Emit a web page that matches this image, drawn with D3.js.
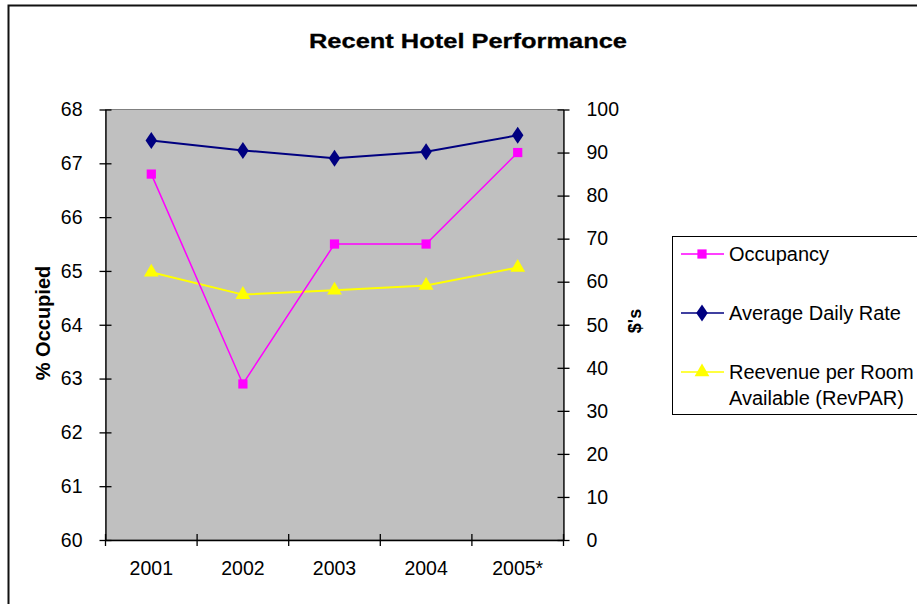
<!DOCTYPE html>
<html>
<head>
<meta charset="utf-8">
<script src="https://cdn.jsdelivr.net/npm/d3@7"></script>
<style>
  body { margin: 0; background: #fff; }
  svg { display: block; font-family: "Liberation Sans", Arial, sans-serif; }
</style>
</head>
<body>
<svg id="chart" width="917" height="604"></svg>
<script>
// chart data
var years = ["2001", "2002", "2003", "2004", "2005*"];
var occupancy = [66.8, 62.9, 65.5, 65.5, 67.2];
var avgDailyRate = [92.8, 90.5, 88.7, 90.2, 94.0];
var revPar = [62.2, 57.0, 58.0, 59.1, 63.3];
var leftTicks = [60, 61, 62, 63, 64, 65, 66, 67, 68];
var rightTicks = [0, 10, 20, 30, 40, 50, 60, 70, 80, 90, 100];

var svg = d3.select("#chart");
var plot = {left: 105.5, right: 563.5, top: 109.5, bottom: 540};

var x = d3.scaleBand().domain(years).range([plot.left, plot.right]).padding(0);
var yL = d3.scaleLinear().domain([60, 68]).range([plot.bottom, plot.top]);
var yR = d3.scaleLinear().domain([0, 100]).range([plot.bottom, plot.top]);

// outer chart frame (cut off right/bottom)
svg.append("rect")
  .attr("x", 8.5).attr("y", 5.5)
  .attr("width", 940).attr("height", 640)
  .attr("fill", "none").attr("stroke", "#111").attr("stroke-width", 2);

// title
svg.append("text")
  .attr("x", 468).attr("y", 48)
  .attr("text-anchor", "middle")
  .attr("font-size", 21).attr("font-weight", "bold")
  .attr("stroke", "#000").attr("stroke-width", 0.3)
  .attr("textLength", 318).attr("lengthAdjust", "spacingAndGlyphs")
  .text("Recent Hotel Performance");

// plot area
svg.append("rect")
  .attr("x", plot.left).attr("y", plot.top)
  .attr("width", plot.right - plot.left).attr("height", plot.bottom - plot.top)
  .attr("fill", "#c0c0c0").attr("stroke", "#808080").attr("stroke-width", 1);

function styleAxis(g) {
  g.select(".domain").attr("stroke", "#000").attr("stroke-width", 1.3);
  g.selectAll(".tick text").attr("font-size", 19.5).attr("fill", "#000");
}

// left axis
var gL = svg.append("g")
  .attr("transform", "translate(" + plot.left + ",0)")
  .call(d3.axisLeft(yL).tickValues(leftTicks).tickSizeOuter(0).tickPadding(17));
styleAxis(gL);
gL.selectAll(".tick line").attr("x1", 6).attr("x2", -6).attr("stroke", "#000").attr("stroke-width", 1.3);

// right axis
var gR = svg.append("g")
  .attr("transform", "translate(" + plot.right + ",0)")
  .call(d3.axisRight(yR).tickValues(rightTicks).tickSizeOuter(0).tickPadding(17));
styleAxis(gR);
gR.selectAll(".tick line").attr("x1", -6).attr("x2", 6).attr("stroke", "#000").attr("stroke-width", 1.3);

// bottom axis (labels centered in bands, ticks on band edges)
var gB = svg.append("g")
  .attr("transform", "translate(0," + plot.bottom + ")")
  .call(d3.axisBottom(x).tickSize(0).tickSizeOuter(0).tickPadding(21));
styleAxis(gB);
gB.selectAll(".tick text").attr("dy", "0.71em");
var edges = years.map(function(d){ return x(d); }).concat([x.range()[1]]);
gB.selectAll(".edge")
  .data(edges)
  .enter()
  .append("line")
  .attr("class", "edge")
  .attr("x1", function(d){ return d; }).attr("x2", function(d){ return d; })
  .attr("y1", -6).attr("y2", 6)
  .attr("stroke", "#000").attr("stroke-width", 1.3);

// axis titles
svg.append("text")
  .attr("transform", "translate(50,323) rotate(-90)")
  .attr("text-anchor", "middle")
  .attr("font-size", 20).attr("font-weight", "bold")
  .text("% Occupied");
svg.append("text")
  .attr("transform", "translate(641,321) rotate(-90)")
  .attr("text-anchor", "middle")
  .attr("font-size", 18).attr("font-weight", "bold")
  .text("$'s");

var cx = function(i){ return x(years[i]) + x.bandwidth() / 2; };

var series = [
  {name: "Average Daily Rate", values: avgDailyRate, scale: yR, color: "#000080", width: 2, shape: d3.symbolDiamond, size: 115},
  {name: "Reevenue per Room", values: revPar, scale: yR, color: "#ffff00", width: 2, shape: d3.symbolTriangle, size: 95},
  {name: "Occupancy", values: occupancy, scale: yL, color: "#ff00ff", width: 1.5, shape: d3.symbolSquare, size: 85}
];

series.forEach(function(s){
  var line = d3.line()
    .x(function(d, i){ return cx(i); })
    .y(function(d){ return s.scale(d); });
  svg.append("path")
    .datum(s.values)
    .attr("d", line)
    .attr("fill", "none")
    .attr("stroke", s.color)
    .attr("stroke-width", s.width);
  svg.selectAll(null)
    .data(s.values)
    .enter()
    .append("path")
    .attr("d", d3.symbol().type(s.shape).size(s.size))
    .attr("transform", function(d, i){
      var sy = s.shape === d3.symbolDiamond ? "scale(1,0.85)" : "";
      return "translate(" + cx(i) + "," + s.scale(d) + ")" + sy;
    })
    .attr("fill", s.color);
});

// legend
var legend = svg.append("g");
legend.append("rect")
  .attr("x", 672.5).attr("y", 236.5)
  .attr("width", 300).attr("height", 178)
  .attr("fill", "#fff").attr("stroke", "#000").attr("stroke-width", 1);

var legendItems = [
  {lines: ["Occupancy"], color: "#ff00ff", shape: d3.symbolSquare, size: 85, y: 254},
  {lines: ["Average Daily Rate"], color: "#000080", shape: d3.symbolDiamond, size: 115, y: 313},
  {lines: ["Reevenue per Room", "Available (RevPAR)"], color: "#ffff00", shape: d3.symbolTriangle, size: 95, y: 372}
];

var li = legend.selectAll(".item")
  .data(legendItems)
  .enter()
  .append("g")
  .attr("class", "item")
  .attr("transform", function(d){ return "translate(0," + d.y + ")"; });
li.append("line")
  .attr("x1", 681).attr("x2", 724)
  .attr("stroke", function(d){ return d.color; })
  .attr("stroke-width", 1.5);
li.append("path")
  .attr("d", function(d){ return d3.symbol().type(d.shape).size(d.size)(); })
  .attr("transform", function(d){
    return "translate(702,0)" + (d.shape === d3.symbolDiamond ? "scale(1,0.85)" : "");
  })
  .attr("fill", function(d){ return d.color; });
li.append("text")
  .attr("x", 729)
  .attr("font-size", 20)
  .selectAll("tspan")
  .data(function(d){ return d.lines; })
  .enter()
  .append("tspan")
  .attr("x", 729)
  .attr("y", function(d, i){ return i * 25.5; })
  .attr("dy", "0.35em")
  .text(function(d){ return d; });
</script>
</body>
</html>
